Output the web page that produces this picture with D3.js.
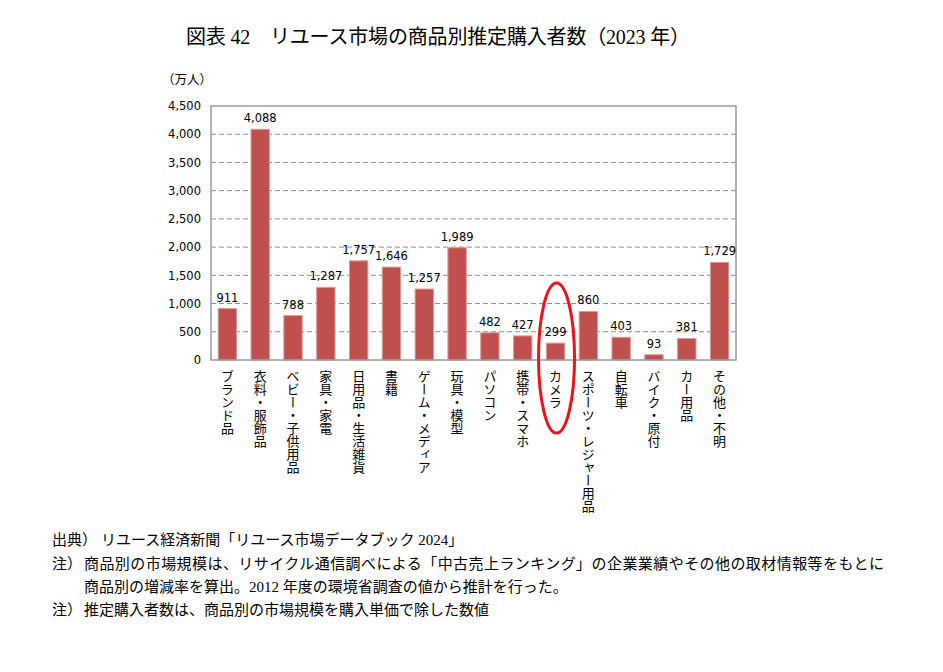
<!DOCTYPE html>
<html>
<head>
<meta charset="utf-8">
<script src="https://cdn.jsdelivr.net/npm/d3@7"></script>
<style>
  html, body { margin: 0; padding: 0; background: #fff; }
  svg { display: block; }
  .serif { font-family: "Liberation Serif", "Noto Sans CJK JP", serif; }
  .tick-label, .value-label { font-family: "DejaVu Sans", "Noto Sans CJK JP", sans-serif; font-size: 11.5px; fill: #000; }
  .cat-label { font-family: "Noto Sans CJK JP", sans-serif; font-size: 13px; fill: #000; }
</style>
</head>
<body>
<svg id="chart" width="943" height="672"></svg>
<script>
// ── Data ──────────────────────────────────────────────────────────────────────
const categories = [
  "ブランド品", "衣料・服飾品", "ベビー・子供用品", "家具・家電", "日用品・生活雑貨",
  "書籍", "ゲーム・メディア", "玩具・模型", "パソコン", "携帯・スマホ", "カメラ",
  "スポーツ・レジャー用品", "自転車", "バイク・原付", "カー用品", "その他・不明"
];
const buyers = [911, 4088, 788, 1287, 1757, 1646, 1257, 1989, 482, 427, 299, 860, 403, 93, 381, 1729];
const yTicks = [0, 500, 1000, 1500, 2000, 2500, 3000, 3500, 4000, 4500];
const highlight = "カメラ";

const title = "図表 42　リユース市場の商品別推定購入者数（2023 年）";
const unitLabel = "（万人）";
const notes = [
  { head: "出典）", text: "リユース経済新聞「リユース市場データブック 2024」" },
  { head: "注）", text: "商品別の市場規模は、リサイクル通信調べによる「中古売上ランキング」の企業業績やその他の取材情報等をもとに" },
  { head: "",     text: "商品別の増減率を算出。2012 年度の環境省調査の値から推計を行った。" },
  { head: "注）", text: "推定購入者数は、商品別の市場規模を購入単価で除した数値" }
];

// ── Chart ─────────────────────────────────────────────────────────────────────
const svg = d3.select("#chart");
const plot = { left: 211, right: 736, top: 106, bottom: 360 };

const x = d3.scaleBand().domain(categories).range([plot.left, plot.right]).paddingInner(0.44).paddingOuter(0.22);
const y = d3.scaleLinear().domain([0, 4500]).range([plot.bottom, plot.top]);

svg.append("text")
  .attr("class", "serif")
  .attr("x", 438).attr("y", 44)
  .attr("text-anchor", "middle")
  .attr("font-size", 20)
  .attr("textLength", 504)
  .text(title);

svg.append("text")
  .attr("x", 162).attr("y", 84)
  .attr("font-family", "Noto Sans CJK JP, sans-serif")
  .attr("font-size", 12.5)
  .text(unitLabel);

// gridlines
svg.append("g")
  .selectAll("line")
  .data(yTicks.filter(t => t > 0 && t < 4500))
  .join("line")
  .attr("x1", plot.left).attr("x2", plot.right)
  .attr("y1", d => y(d)).attr("y2", d => y(d))
  .attr("stroke", "#8c8c8c").attr("stroke-width", 1)
  .attr("stroke-dasharray", "5,3");

// y axis labels
const yAxis = svg.append("g")
  .attr("transform", `translate(${plot.left},0)`)
  .call(d3.axisLeft(y).tickValues(yTicks).tickSize(0).tickPadding(10).tickFormat(d3.format(",")));
yAxis.select(".domain").remove();
yAxis.selectAll("text").attr("class", "tick-label").attr("font-family", null).attr("font-size", null);

// bars
svg.append("g")
  .selectAll("rect")
  .data(categories)
  .join("rect")
  .attr("x", d => x(d))
  .attr("width", x.bandwidth())
  .attr("y", (d, i) => y(buyers[i]))
  .attr("height", (d, i) => y(0) - y(buyers[i]))
  .attr("fill", "#c0504d")
  .attr("stroke", "#dc9a98").attr("stroke-width", 1);

// plot frame
svg.append("rect")
  .attr("x", plot.left).attr("y", plot.top)
  .attr("width", plot.right - plot.left).attr("height", plot.bottom - plot.top)
  .attr("fill", "none").attr("stroke", "#9a9a9a").attr("stroke-width", 1.5);

// value labels
svg.append("g")
  .selectAll("text")
  .data(categories)
  .join("text")
  .attr("class", "value-label")
  .attr("x", d => x(d) + x.bandwidth() / 2)
  .attr("y", (d, i) => y(buyers[i]) - 7)
  .attr("text-anchor", "middle")
  .text((d, i) => d3.format(",")(buyers[i]));

// category labels (vertical)
svg.append("g")
  .selectAll("text")
  .data(categories)
  .join("text")
  .attr("class", "cat-label")
  .attr("x", d => x(d) + x.bandwidth() / 2)
  .attr("y", plot.bottom + 10)
  .style("writing-mode", "vertical-rl")
  .text(d => d);

// red ellipse around highlighted category
svg.append("ellipse")
  .attr("cx", x(highlight) + x.bandwidth() / 2 + 1)
  .attr("cy", 358)
  .attr("rx", 18).attr("ry", 75)
  .attr("fill", "none")
  .attr("stroke", "#e8141b").attr("stroke-width", 3);

// notes
const noteY = [545, 569, 592, 615];
const noteTextX = [101, 84, 84, 84];
notes.forEach((n, i) => {
  svg.append("text")
    .attr("class", "serif").attr("font-size", 15)
    .attr("x", 52).attr("y", noteY[i])
    .text(n.head);
  const t = svg.append("text")
    .attr("class", "serif").attr("font-size", 15)
    .attr("x", noteTextX[i]).attr("y", noteY[i])
    .text(n.text);
  if (i === 1) t.attr("textLength", 800);
});
</script>
</body>
</html>
